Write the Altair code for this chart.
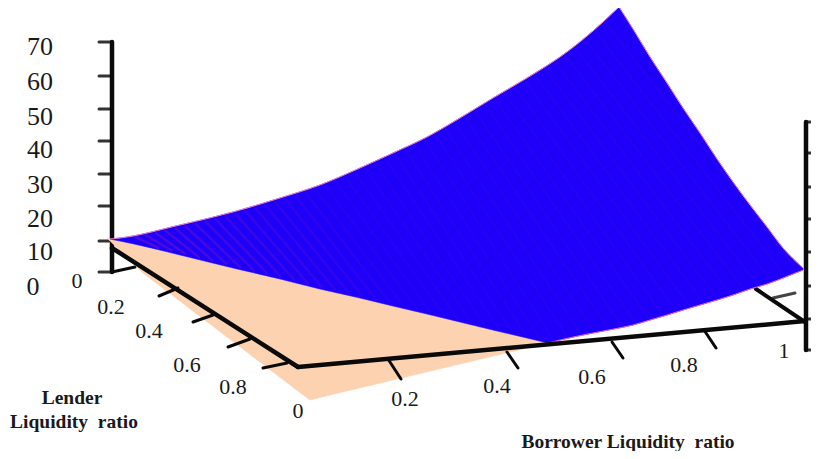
import altair as alt
import numpy as np
import pandas as pd

# --- tick labels and the drawing's outlines (picture coordinates) ---
z_labels = ["70", "60", "50", "40", "30", "20", "10", "0"]
z_label_x = [40, 40, 40, 40, 40, 40, 40, 33]
z_label_y = [47, 82, 117, 150, 185, 219, 252, 287]
z_tick_y_left = [42, 76, 109, 141, 174, 206, 241, 272]
z_tick_y_right = [122, 153, 187, 219, 252, 286, 319, 350]

lender_labels = ["0", "0.2", "0.4", "0.6", "0.8"]
lender_label_x = [77, 111, 149, 187, 233]
lender_label_y = [281, 307, 331, 365, 387]
borrower_labels = ["0", "0.2", "0.4", "0.6", "0.8", "1"]
borrower_label_x = [298, 405, 497, 592, 684, 784]
borrower_label_y = [411, 399, 386, 377, 365, 351]

surface_x = [110, 120, 180, 233, 280, 320, 360, 393, 427, 460, 493, 527, 548, 560, 593, 619,
             633, 650, 667, 683, 700, 717, 733, 750, 767, 783, 803]
surface_upper = [239, 238, 225, 212, 198, 185, 168, 153, 137, 118, 98, 78, 65, 57, 31, 7,
                 29, 57, 83, 108, 133, 159, 182, 205, 227, 248, 268]
surface_lower = [239, 241, 255, 268, 279, 289, 298, 306, 314, 322, 330, 338, 343, 340, 333, 328,
                 325, 320, 315, 310, 305, 300, 295, 289, 284, 278, 270]

base_x = [107, 143, 298, 310, 330, 548]
base_upper = [238, 247, 284, 287, 291, 343]
base_lower = [238, 273, 391, 400, 395, 343]

thick_axes = [(112, 42, 112, 272), (806, 122, 806, 350)]
floor_axes = [(112, 248, 298, 367), (298, 367, 805, 321), (756, 289, 805, 322)]
floor_ticks = [
    (178, 288, 159, 296), (213, 315, 193, 322), (250, 339, 228, 347), (287, 363, 263, 368),
    (388, 359, 401, 379), (507, 352, 518, 368), (612, 342, 623, 358), (704, 330, 716, 348),
]
back_ticks = [(112, 272, 135, 267), (773, 298, 795, 293)]

X = alt.Scale(domain=[8, 811])
Y = alt.Scale(domain=[8, 451], reverse=True)
ax = dict(scale=X, axis=None)
ay = dict(scale=Y, axis=None)


def rule(rows, width, color="#0a0a0a"):
    df = pd.DataFrame(rows, columns=["x", "y", "x2", "y2"])
    return alt.Chart(df).mark_rule(strokeWidth=width, color=color, strokeCap="round").encode(
        x=alt.X("x:Q", **ax), y=alt.Y("y:Q", **ay), x2="x2:Q", y2="y2:Q",
    )


def band(xs, up, lo, color, interp="linear"):
    df = pd.DataFrame({"x": xs, "u": up, "l": lo})
    return alt.Chart(df).mark_area(
        color=color, opacity=1, interpolate=interp, stroke=color, strokeWidth=0.6,
    ).encode(x=alt.X("x:Q", **ax), y=alt.Y("u:Q", **ay), y2="l:Q")


def edge(xs, ys, color):
    df = pd.DataFrame({"x": xs, "y": ys})
    return alt.Chart(df).mark_line(color=color, strokeWidth=1, interpolate="monotone").encode(
        x=alt.X("x:Q", **ax), y=alt.Y("y:Q", **ay), order="x:Q",
    )


def labels(texts, xs, ys, size, weight="normal"):
    df = pd.DataFrame({"t": texts, "x": xs, "y": ys})
    return alt.Chart(df).mark_text(
        font="Liberation Serif", fontSize=size, fontWeight=weight, color="#1a1a1a",
        align="center", baseline="middle",
    ).encode(x=alt.X("x:Q", **ax), y=alt.Y("y:Q", **ay), text="t:N")


# faint ripple of the surface mesh, strongest at the left end
sx = np.array(surface_x, float)
starts = np.arange(135, 615, 10.0)
ends = starts + (starts - 110) * 0.36 + 15
stripes = pd.DataFrame({
    "x": starts,
    "y": np.interp(starts, sx, surface_upper) + 2,
    "x2": ends,
    "y2": np.interp(ends, sx, surface_lower) - 2,
    "o": np.clip(0.5 - (starts - 135) / 450, 0.07, 0.5),
})
ripple = alt.Chart(stripes).mark_rule(strokeWidth=2.5, color="#7a18c0").encode(
    x=alt.X("x:Q", **ax), y=alt.Y("y:Q", **ay), x2="x2:Q", y2="y2:Q",
    opacity=alt.Opacity("o:Q", scale=None),
)

z_ticks_left = [(99, y, 112, y) for y in z_tick_y_left]
z_ticks_right = [(806, y, 819, y) for y in z_tick_y_right]
BLUE = "#1e00f8"
PINK = "#ee80c8"

chart = alt.layer(
    rule(z_ticks_left, 3, "#333333"),
    rule(z_ticks_right, 3, "#333333"),
    rule(thick_axes, 4.5),
    rule(back_ticks[:1], 3),
    rule(back_ticks[1:], 3, "#444444"),
    rule(floor_axes[2:], 4),
    band(base_x, base_upper, base_lower, "#fcd2b0"),
    band(surface_x[:13], surface_upper[:13], surface_lower[:13], BLUE, "monotone"),
    band(surface_x[12:16], surface_upper[12:16], surface_lower[12:16], BLUE, "monotone"),
    band(surface_x[15:], surface_upper[15:], surface_lower[15:], BLUE, "monotone"),
    ripple,
    edge(surface_x[:16], surface_upper[:16], PINK),
    edge(surface_x[15:], surface_upper[15:], PINK),
    edge(surface_x[12:], surface_lower[12:], "#e060e0"),
    rule(floor_axes[:2], 4.5),
    rule(floor_ticks, 3),
    labels(z_labels, z_label_x, z_label_y, 26),
    labels(lender_labels, lender_label_x, lender_label_y, 22),
    labels(borrower_labels, borrower_label_x, borrower_label_y, 22),
    labels(["Lender", "Liquidity\u00a0\u00a0ratio"], [72, 74], [398, 422], 19.5, "bold"),
    labels(["Borrower Liquidity\u00a0\u00a0ratio"], [628], [442], 19.5, "bold"),
).properties(
    width=803, height=443, padding=0,
    autosize=alt.AutoSizeParams(type="none"),
).configure_view(stroke=None)

chart.save("out.html", embed_options={"renderer": "svg", "actions": False})
